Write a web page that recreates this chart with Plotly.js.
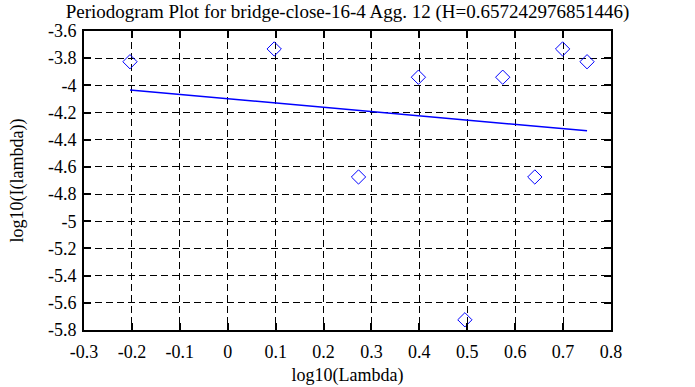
<!DOCTYPE html>
<html>
<head>
<meta charset="utf-8">
<script src="https://cdn.plot.ly/plotly-3.0.1.min.js"></script>
<style>html,body{margin:0;padding:0;background:#fff;}#chart{width:695px;height:387px;}</style>
</head>
<body>
<div id="chart"></div>
<script>
// Periodogram points: log10(lambda) vs log10(I(lambda))
const logLambda = [-0.204, 0.097, 0.273, 0.398, 0.495, 0.574, 0.641, 0.699, 0.750];
const logI = [-3.826, -3.732, -4.674, -3.940, -5.725, -3.940, -4.674, -3.732, -3.826];
// Fitted line endpoints
const fitX = [-0.204, 0.750];
const fitY = [-4.034, -4.334];
const xTicks = [-0.3, -0.2, -0.1, 0, 0.1, 0.2, 0.3, 0.4, 0.5, 0.6, 0.7, 0.8];
const xTickText = ['-0.3', '-0.2', '-0.1', '0', '0.1', '0.2', '0.3', '0.4', '0.5', '0.6', '0.7', '0.8'];
const yTicks = [-3.6, -3.8, -4, -4.2, -4.4, -4.6, -4.8, -5, -5.2, -5.4, -5.6, -5.8];
const yTickText = ['-3.6', '-3.8', '-4', '-4.2', '-4.4', '-4.6', '-4.8', '-5', '-5.2', '-5.4', '-5.6', '-5.8'];

const font = 'Liberation Serif, Times New Roman, serif';

const traces = [
  {
    x: logLambda, y: logI, type: 'scatter', mode: 'markers',
    marker: {symbol: 'diamond-open', size: 11, color: '#0000ff', line: {width: 1, color: '#0000ff'}},
    hoverinfo: 'skip', showlegend: false, cliponaxis: false
  },
  {
    x: fitX, y: fitY, type: 'scatter', mode: 'lines',
    line: {color: '#0000ff', width: 1.5},
    hoverinfo: 'skip', showlegend: false
  }
];

const axisCommon = {
  showline: true, linecolor: '#000', linewidth: 2, mirror: 'allticks',
  ticks: 'inside', ticklen: 7, tickwidth: 2, tickcolor: '#000',
  showgrid: true, gridcolor: '#000', gridwidth: 1, griddash: '7px,4px',
  zeroline: false, tickfont: {family: font, size: 18, color: '#000'}
};

const layout = {
  width: 695, height: 387,
  margin: {l: 84, r: 84, t: 31, b: 57},
  paper_bgcolor: '#fff', plot_bgcolor: '#fff',
  title: {text: 'Periodogram Plot for bridge-close-16-4 Agg. 12 (H=0.657242976851446)',
          font: {family: font, size: 19, color: '#000'}, x: 0.5, xanchor: 'center',
          yref: 'paper', y: 1, yanchor: 'bottom', pad: {b: 13}},
  xaxis: Object.assign({}, axisCommon, {
    range: [-0.3, 0.8], tickvals: xTicks, ticktext: xTickText, ticklabelstandoff: 4,
    title: {text: 'log10(Lambda)', font: {family: font, size: 18, color: '#000'}, standoff: 8}
  }),
  yaxis: Object.assign({}, axisCommon, {
    range: [-5.8, -3.6], tickvals: yTicks, ticktext: yTickText, ticklabelstandoff: 2,
    title: {text: 'log10(I(lambda))', font: {family: font, size: 18, color: '#000'}, standoff: 20}
  })
};

Plotly.newPlot('chart', traces, layout, {displayModeBar: false, staticPlot: true});
</script>
</body>
</html>
